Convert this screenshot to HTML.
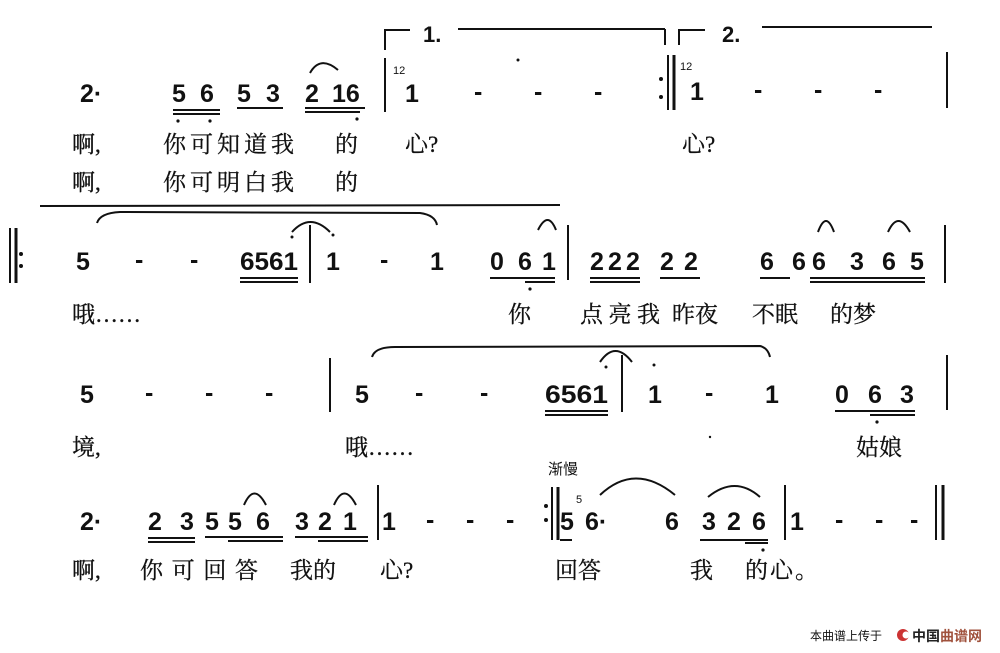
<!DOCTYPE html>
<html><head><meta charset="utf-8"><style>
html,body{margin:0;padding:0;background:#fff;width:1000px;height:653px;overflow:hidden}
svg{display:block}
.n{font-family:"Liberation Sans",sans-serif;font-weight:bold;font-size:25px;fill:#111}
.l{font-family:"Liberation Serif","Noto Serif CJK SC",serif;font-size:23px;fill:#111;stroke:#111;stroke-width:0.3}
.s{font-family:"Liberation Sans","Noto Sans CJK SC",sans-serif;font-size:12px;fill:#111}
</style></head><body>
<svg width="1000" height="653" viewBox="0 0 1000 653" xmlns="http://www.w3.org/2000/svg">
<g stroke="#111" fill="none" stroke-width="2">
<polyline points="385,50 385,30 410,30"/><line x1="458" y1="29" x2="665" y2="29"/><line x1="665" y1="29" x2="665" y2="45"/>
<polyline points="679,45 679,30 705,30"/><line x1="762" y1="27" x2="932" y2="27"/>
<line x1="385" y1="58" x2="385" y2="112"/>
<line x1="668" y1="55" x2="668" y2="110"/><line x1="674" y1="55" x2="674" y2="110" stroke-width="3"/>
<line x1="947" y1="52" x2="947" y2="108"/>
<line x1="173" y1="110" x2="220" y2="110"/><line x1="173" y1="114" x2="220" y2="114"/>
<line x1="237" y1="108" x2="283" y2="108"/>
<line x1="305" y1="108" x2="365" y2="108"/><line x1="305" y1="112" x2="360" y2="112"/>
<path d="M310,73 Q320,55 338,70"/>
<line x1="10" y1="228" x2="10" y2="283"/><line x1="16" y1="228" x2="16" y2="283" stroke-width="3"/>
<line x1="40" y1="206" x2="560" y2="205"/>
<path d="M97,223 Q100,213 120,212 L420,213 Q435,215 437,225"/>
<path d="M292,232 Q310,212 330,232"/>
<path d="M538,230 Q548,210 556,230"/>
<path d="M818,232 Q826,210 834,232"/><path d="M888,232 Q898,210 910,232"/>
<line x1="310" y1="225" x2="310" y2="283"/><line x1="568" y1="225" x2="568" y2="280"/><line x1="945" y1="225" x2="945" y2="283"/>
<line x1="240" y1="278" x2="298" y2="278"/><line x1="240" y1="282" x2="298" y2="282"/>
<line x1="490" y1="278" x2="555" y2="278"/><line x1="525" y1="282" x2="555" y2="282"/>
<line x1="590" y1="278" x2="640" y2="278"/><line x1="590" y1="282" x2="640" y2="282"/>
<line x1="660" y1="278" x2="700" y2="278"/>
<line x1="760" y1="278" x2="790" y2="278"/><line x1="810" y1="278" x2="925" y2="278"/><line x1="810" y1="282" x2="925" y2="282"/>
<line x1="330" y1="358" x2="330" y2="412"/><line x1="622" y1="355" x2="622" y2="412"/><line x1="947" y1="355" x2="947" y2="410"/>
<path d="M372,357 Q375,347 395,347 L760,346 Q768,348 770,357"/>
<path d="M600,362 Q615,340 632,362"/>
<line x1="545" y1="411" x2="608" y2="411"/><line x1="545" y1="415" x2="608" y2="415"/>
<line x1="835" y1="411" x2="915" y2="411"/><line x1="870" y1="415" x2="915" y2="415"/>
<line x1="378" y1="485" x2="378" y2="540"/>
<line x1="552" y1="487" x2="552" y2="540"/><line x1="558" y1="487" x2="558" y2="540" stroke-width="3"/>
<line x1="785" y1="485" x2="785" y2="540"/>
<line x1="936" y1="485" x2="936" y2="540"/><line x1="943" y1="485" x2="943" y2="540" stroke-width="3"/>
<line x1="148" y1="538" x2="195" y2="538"/><line x1="148" y1="542" x2="195" y2="542"/>
<line x1="205" y1="537" x2="283" y2="537"/><line x1="228" y1="541" x2="283" y2="541"/>
<line x1="295" y1="537" x2="368" y2="537"/><line x1="318" y1="541" x2="368" y2="541"/>
<path d="M244,505 Q254,482 266,505"/><path d="M334,505 Q344,482 356,505"/>
<line x1="560" y1="540" x2="572" y2="540"/>
<line x1="700" y1="540" x2="768" y2="540"/><line x1="745" y1="543" x2="768" y2="543"/>
<path d="M600,495 Q635,462 675,495"/><path d="M708,497 Q735,475 760,497"/>
</g>
<g fill="#111">
<circle cx="518" cy="60" r="1.5"/><circle cx="661" cy="79" r="2"/><circle cx="661" cy="97" r="2"/>
<circle cx="178" cy="121" r="1.6"/><circle cx="210" cy="121" r="1.6"/><circle cx="357" cy="119" r="1.6"/>
<circle cx="21" cy="254" r="2"/><circle cx="21" cy="266" r="2"/>
<circle cx="292" cy="237" r="1.5"/><circle cx="333" cy="235" r="1.5"/><circle cx="530" cy="289" r="1.6"/>
<circle cx="606" cy="367" r="1.5"/><circle cx="654" cy="365" r="1.5"/><circle cx="877" cy="422" r="1.6"/>
<circle cx="546" cy="506" r="2"/><circle cx="546" cy="520" r="2"/><circle cx="763" cy="550" r="1.6"/>
<circle cx="710" cy="437" r="1.2"/>
</g>
<g class="n">
<text x="80" y="102">2·</text>
<text x="172" y="102">5</text><text x="200" y="102">6</text><text x="237" y="102">5</text><text x="266" y="102">3</text><text x="305" y="102">2</text><text x="332" y="102">16</text>
<text x="405" y="102">1</text><text x="474" y="100">-</text><text x="534" y="100">-</text><text x="594" y="100">-</text>
<text x="690" y="100">1</text><text x="754" y="98">-</text><text x="814" y="98">-</text><text x="874" y="98">-</text>
<text x="423" y="42" font-size="22">1.</text><text x="722" y="42" font-size="22">2.</text>
<text x="76" y="270">5</text><text x="135" y="268">-</text><text x="190" y="268">-</text>
<text x="240" y="270" textLength="58" lengthAdjust="spacingAndGlyphs">6561</text>
<text x="326" y="270">1</text><text x="380" y="268">-</text><text x="430" y="270">1</text>
<text x="490" y="270">0</text><text x="518" y="270">6</text><text x="542" y="270">1</text>
<text x="590" y="270">2</text><text x="608" y="270">2</text><text x="626" y="270">2</text>
<text x="660" y="270">2</text><text x="684" y="270">2</text>
<text x="760" y="270">6</text><text x="792" y="270">6</text><text x="812" y="270">6</text><text x="850" y="270">3</text><text x="882" y="270">6</text><text x="910" y="270">5</text>
<text x="80" y="403">5</text><text x="145" y="401">-</text><text x="205" y="401">-</text><text x="265" y="401">-</text>
<text x="355" y="403">5</text><text x="415" y="401">-</text><text x="480" y="401">-</text>
<text x="545" y="403" textLength="63" lengthAdjust="spacingAndGlyphs">6561</text>
<text x="648" y="403">1</text><text x="705" y="401">-</text><text x="765" y="403">1</text>
<text x="835" y="403">0</text><text x="868" y="403">6</text><text x="900" y="403">3</text>
<text x="80" y="530">2·</text>
<text x="148" y="530">2</text><text x="180" y="530">3</text><text x="205" y="530">5</text><text x="228" y="530">5</text><text x="256" y="530">6</text><text x="295" y="530">3</text><text x="318" y="530">2</text><text x="343" y="530">1</text>
<text x="382" y="530">1</text><text x="426" y="528">-</text><text x="466" y="528">-</text><text x="506" y="528">-</text>
<text x="560" y="530">5</text><text x="585" y="530">6·</text><text x="665" y="530">6</text>
<text x="702" y="530">3</text><text x="727" y="530">2</text><text x="752" y="530">6</text>
<text x="790" y="530">1</text><text x="835" y="528">-</text><text x="875" y="528">-</text><text x="910" y="528">-</text>
</g>
<g class="s">
<text x="393" y="74" font-size="11">12</text><text x="680" y="70" font-size="11">12</text>
<text x="576" y="503" font-size="11">5</text>
<text x="548" y="474" font-size="15">渐慢</text>
</g>
<g class="l">
<text x="72" y="152">啊,</text><text x="163" y="152" letter-spacing="4">你可知道我</text><text x="335" y="152">的</text>
<text x="405" y="152">心?</text><text x="682" y="152">心?</text>
<text x="72" y="190">啊,</text><text x="163" y="190" letter-spacing="4">你可明白我</text><text x="335" y="190">的</text>
<text x="72" y="322">哦……</text><text x="508" y="322">你</text><text x="580" y="322" textLength="80">点亮我</text>
<text x="672" y="322">昨夜</text><text x="752" y="322">不眠</text><text x="830" y="322">的梦</text>
<text x="72" y="455">境,</text><text x="345" y="455">哦……</text><text x="856" y="455">姑娘</text>
<text x="72" y="578">啊,</text><text x="140" y="578" textLength="118">你可回答</text><text x="290" y="578">我的</text><text x="380" y="578">心?</text>
<text x="555" y="578">回答</text><text x="690" y="578">我</text><text x="745" y="578" letter-spacing="2">的心。</text>
</g>
<text x="810" y="640" font-family="'Noto Sans CJK SC',sans-serif" font-size="12" fill="#111">本曲谱上传于</text>
<circle cx="903" cy="635" r="6" fill="#c33"/><circle cx="906" cy="635" r="3.5" fill="#fff"/>
<text x="912" y="641" font-family="'Noto Sans CJK SC',sans-serif" font-weight="bold" font-size="14" fill="#222">中国<tspan fill="#a0523d">曲谱网</tspan></text>
</svg>
</body></html>
